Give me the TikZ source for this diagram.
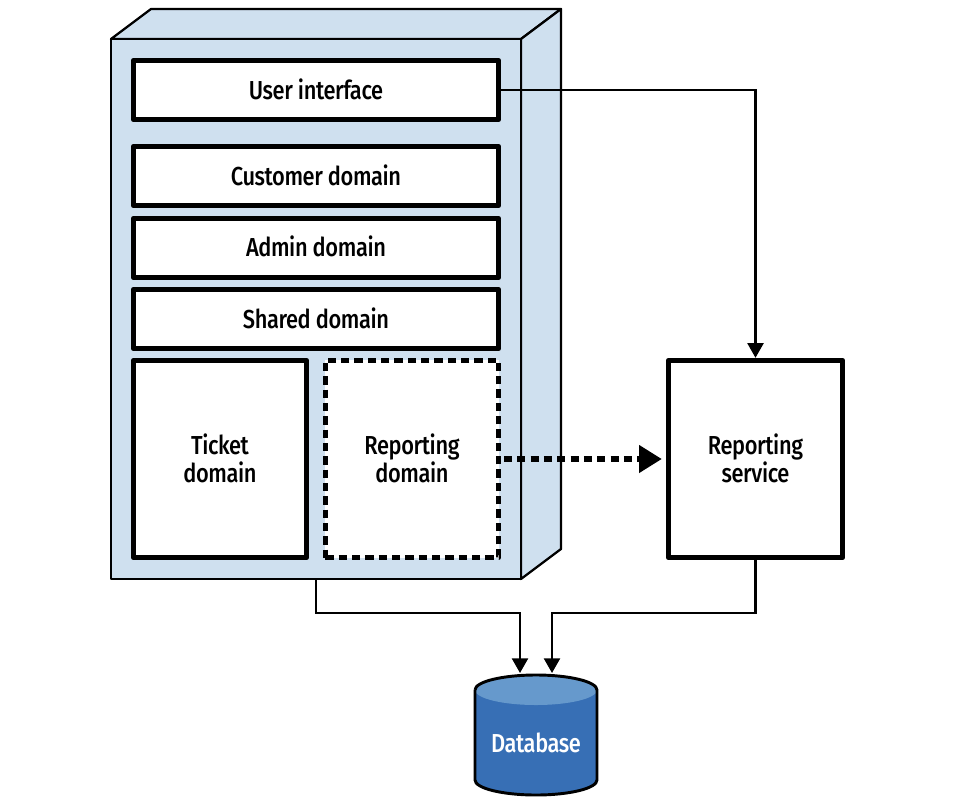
\documentclass[tikz,border=0pt]{standalone}
\usepackage{fontspec}
\setmainfont{Fira Sans Medium}[FakeStretch=0.84,LetterSpace=-1.5]
\usetikzlibrary{arrows.meta,calc}
\definecolor{paleblue}{HTML}{CFE0EF}
\definecolor{dbblue}{HTML}{376FB5}
\definecolor{dbtop}{HTML}{6699CC}
\renewcommand{\arraystretch}{0.92}
\newcommand{\lbl}[2][-7.4pt]{\raisebox{#1}[0pt][0pt]{\begin{tabular}{@{}c@{}}#2\end{tabular}}}
\tikzset{
  px/.style={x=0.75pt,y=-0.75pt},
  faceline/.style={draw=black,line width=1.7pt,line join=round,fill=paleblue},
  box/.style={draw=black,fill=white,line width=3.8pt,line join=round,inner sep=0pt,
    font=\fontsize{19.5}{20.25}\selectfont},
  dashbox/.style={box,dash pattern=on 6.2pt off 3.8pt},
  link/.style={draw=black,line width=1.7pt,line join=miter,-{Triangle[length=11pt,width=12pt]}},
  dashlink/.style={draw=black,line width=3.8pt,dash pattern=on 6.2pt off 3.8pt,-{Triangle[length=17pt,width=20pt]}},
}
\begin{document}
\begin{tikzpicture}[px]
\useasboundingbox (0,0) rectangle (954,808);
% 3D block
\draw[faceline] (111,39) -- (151,9) -- (561,9) -- (521,39) -- cycle;
\draw[faceline] (521,39) -- (561,9) -- (561,549) -- (521,579) -- cycle;
\node[faceline,minimum width=307.5pt,minimum height=405pt,inner sep=0pt,outer sep=0.8pt] (mono) at (316,309) {};
% inner boxes
\node[box,minimum width=274pt,minimum height=44.6pt] (ui) at (316,90) {\lbl{User interface}};
\node[box,minimum width=274pt,minimum height=44.6pt] (cust) at (316,176) {\lbl{Customer domain}};
\node[box,minimum width=274pt,minimum height=44.6pt] (admin) at (316,248) {\lbl[-6.4pt]{Admin domain}};
\node[box,minimum width=274pt,minimum height=44.6pt] (shared) at (316,319) {\lbl{Shared domain}};
\node[box,minimum width=130pt,minimum height=148pt] (ticket) at (220,459) {\lbl{Ticket\\domain}};
\node[dashbox,minimum width=130pt,minimum height=148pt] (report) at (412,459) {\lbl{Reporting\\domain}};
\node[box,minimum width=130.75pt,minimum height=148pt] (service) at (755.5,459) {\lbl{Reporting\\service}};
% database
\fill[dbblue] (475,690) -- (475,780) arc[start angle=180,end angle=0,x radius=61,y radius=15] -- (597,690) -- cycle;
\fill[dbtop] (536,690) ellipse[x radius=61,y radius=15];
\draw[black,line width=2.2pt,line join=round] (475,690) -- (475,780) arc[start angle=180,end angle=0,x radius=61,y radius=15] -- (597,690) arc[start angle=360,end angle=180,x radius=61,y radius=15];
\node[inner sep=0pt,text=white,font=\fontsize{19.5}{21}\selectfont] (db) at (536,743) {Database};
% connectors
\coordinate (dbinA) at (520,673);
\coordinate (dbinB) at (552,673);
\draw[link] (ui.east) -| (service.north);
\draw[dashlink,shorten >=3pt,shorten <=2pt] (report.east) -- (service.west);
\draw[link] (mono.south) |- ($(dbinA)+(0,-60)$) -- (dbinA);
\draw[link] (service.south) |- ($(dbinB)+(0,-60)$) -- (dbinB);
\end{tikzpicture}
\end{document}
